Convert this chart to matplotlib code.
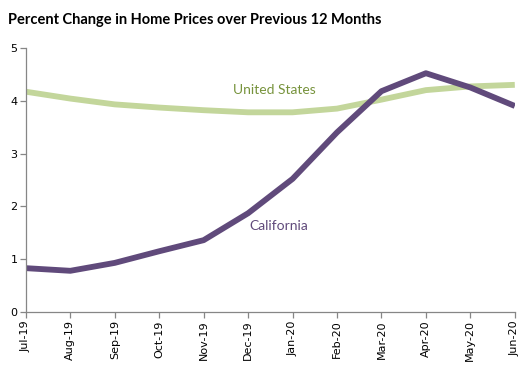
import matplotlib.pyplot as plt

# data
months = ['Jul-19', 'Aug-19', 'Sep-19', 'Oct-19', 'Nov-19', 'Dec-19',
          'Jan-20', 'Feb-20', 'Mar-20', 'Apr-20', 'May-20', 'Jun-20']
california = [0.83, 0.78, 0.93, 1.15, 1.36, 1.87, 2.52, 3.40, 4.18, 4.52, 4.25, 3.90]
united_states = [4.17, 4.04, 3.93, 3.87, 3.82, 3.78, 3.78, 3.85, 4.02, 4.20, 4.27, 4.30]
yticks = [0, 1, 2, 3, 4, 5]

purple = '#604A7B'
green = '#C3D69B'

fig = plt.figure(figsize=(5.28, 3.71), dpi=100)
ax = fig.add_axes([0.049, 0.159, 0.926, 0.712])

x = range(len(months))
ax.plot(x, united_states, color=green, linewidth=4.2, solid_capstyle='butt')
ax.plot(x, california, color=purple, linewidth=4.2, solid_capstyle='butt')

ax.set_xlim(0, len(months) - 1)
ax.set_ylim(0, 5)
ax.set_xticks(list(x))
ax.set_xticklabels(months, rotation=90, fontsize=8, family='DejaVu Sans')
ax.set_yticks(yticks)
ax.set_yticklabels([str(v) for v in yticks], fontsize=8, family='DejaVu Sans')

for side in ['top', 'right']:
    ax.spines[side].set_visible(False)
for side in ['left', 'bottom']:
    ax.spines[side].set_color('#868686')
    ax.spines[side].set_linewidth(0.9)
ax.tick_params(color='#868686', length=4, width=0.9, pad=2)

ax.text(5.6, 4.2, 'United States', color='#77933C', fontsize=10,
        family='Lato', ha='center', va='center')
ax.text(5.7, 1.62, 'California', color=purple, fontsize=10,
        family='Lato', ha='center', va='center')

fig.text(0.015, 0.945, 'Percent Change in Home Prices over Previous 12 Months',
         fontsize=10.5, fontweight='bold', family='Lato', va='center')

fig.savefig('out.png', dpi=100)
